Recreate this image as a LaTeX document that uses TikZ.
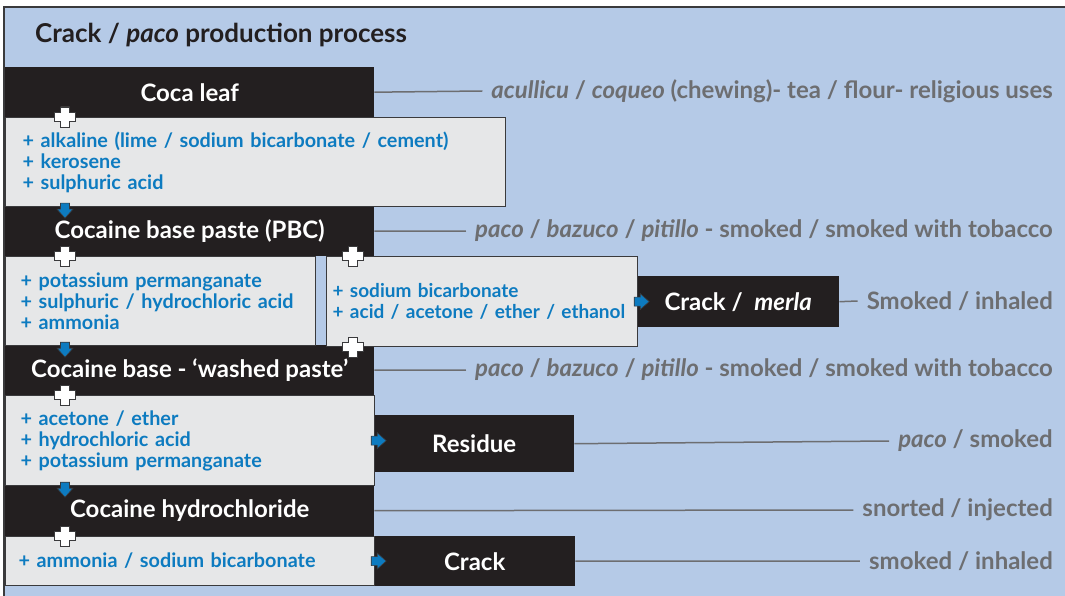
\documentclass[tikz,border=0pt]{standalone}
\usepackage{fontspec}
\setmainfont{Lato}
\usetikzlibrary{positioning}
\definecolor{bgblue}{HTML}{B5CAE7}
\definecolor{framegray}{HTML}{3A3A3C}
\definecolor{stageblack}{HTML}{231F20}
\definecolor{addgray}{HTML}{E6E7E8}
\definecolor{edgegray}{HTML}{3A3A3C}
\definecolor{addblue}{HTML}{0D7BC0}
\definecolor{usegray}{HTML}{6D6E71}

\begin{document}
\begin{tikzpicture}[x=1pt,y=-1pt,
    stage/.style={fill=stageblack,text=white,font=\bfseries\fontsize{24}{26}\selectfont,anchor=north west,inner sep=0pt},
    adds/.style={fill=addgray,draw=edgegray,line width=1.2pt,text=addblue,font=\bfseries\fontsize{19.8}{21}\selectfont,anchor=north west,align=left,inner ysep=0pt},
    use/.style={text=usegray,font=\bfseries\fontsize{24}{26}\selectfont,anchor=east,inner xsep=9pt,inner ysep=0pt},
    useline/.style={draw=usegray,line width=1.5pt},
    plusmark/.pic={\filldraw[fill=white,draw=edgegray,line width=0.8pt]
      (-4.5,-10) -- (4.5,-10) -- (4.5,-4.5) -- (10.5,-4.5) -- (10.5,4.5) -- (4.5,4.5)
      -- (4.5,10) -- (-4.5,10) -- (-4.5,4.5) -- (-10.5,4.5) -- (-10.5,-4.5) -- (-4.5,-4.5) -- cycle;},
    flowmark/.pic={\filldraw[fill=addblue,draw=edgegray,line width=0.6pt]
      (-4,-4.5) -- (2,-4.5) -- (2,-8) -- (11,0) -- (2,8) -- (2,4.5) -- (-4,4.5) -- cycle;}]
  \useasboundingbox (0,0) rectangle (1065,596);
  % background
  \fill[bgblue] (4,7) rectangle (1065,596);
  \draw[framegray,line width=2pt] (4,596) -- (4,7) -- (1065,7);
  \node[anchor=west,text=stageblack,font=\bfseries\fontsize{26}{28}\selectfont,inner sep=0pt] (title) at (35,35) {Crack / \textit{paco} production process};

  % stages
  \node[stage,minimum width=369,minimum height=50] (coca) at (5,67) {Coca leaf};
  \node[stage,minimum width=369,minimum height=50] (pbc) at (5,206) {Cocaine base paste (PBC)};
  \node[stage,minimum width=369,minimum height=50] (washed) at (5,345) {Cocaine base - ‘washed paste’};
  \node[stage,minimum width=369,minimum height=51] (hcl) at (5,485) {Cocaine hydrochloride};
  \node[stage,minimum width=202,minimum height=51] (merla) at (637,276) {Crack /\ \ \textit{merla}};
  \node[stage,minimum width=200,minimum height=57] (residue) at (374,415) {Residue};
  \node[stage,minimum width=201,minimum height=50] (crack) at (374,536) {Crack};

  % what is added
  \node[adds,inner xsep=17pt,text width=466,minimum height=89] (coca-add) at (5,117)
    {+ alkaline (lime / sodium bicarbonate / cement)\\+ kerosene\\+ sulphuric acid};
  \node[adds,inner xsep=15pt,text width=280,minimum height=89] (pbc-add) at (5,256)
    {+ potassium permanganate\\+ sulphuric / hydrochloric acid\\+ ammonia};
  \node[adds,font=\bfseries\fontsize{19}{21}\selectfont,inner xsep=6pt,text width=299,minimum height=90] (merla-add) at (326,256)
    {+ sodium bicarbonate\\+ acid / acetone / ether / ethanol};
  \node[adds,inner xsep=15pt,text width=339,minimum height=90] (washed-add) at (5,395)
    {+ acetone / ether\\+ hydrochloric acid\\+ potassium permanganate};
  \node[adds,inner xsep=13pt,text width=343,minimum height=49] (hcl-add) at (5,536)
    {+ ammonia / sodium bicarbonate};

  % markers
  \pic at ([xshift=60]coca-add.north west) {plusmark};
  \pic[rotate=-90] at ([xshift=60]coca-add.south west) {flowmark};
  \pic at ([xshift=60]pbc-add.north west) {plusmark};
  \pic[rotate=-90] at ([xshift=60]pbc-add.south west) {flowmark};
  \pic at ([xshift=27]merla-add.north west) {plusmark};
  \pic at ([xshift=27]merla-add.south west) {plusmark};
  \pic at (merla-add.east) {flowmark};
  \pic at ([xshift=60]washed-add.north west) {plusmark};
  \pic[rotate=-90] at ([xshift=60]washed-add.south west) {flowmark};
  \pic at (washed-add.east) {flowmark};
  \pic at ([xshift=60]hcl-add.north west) {plusmark};
  \pic at (hcl-add.east) {flowmark};

  % uses
  \node[use] (coca-use) at (1062,91) {\textit{acullicu} / \textit{coqueo} (chewing)- tea / flour- religious uses};
  \node[use] (pbc-use) at (1062,231) {\textit{paco} / \textit{bazuco} / \textit{pitillo} - smoked / smoked with tobacco};
  \node[use] (merla-use) at (1062,301) {Smoked / inhaled};
  \node[use] (washed-use) at (1062,370) {\textit{paco} / \textit{bazuco} / \textit{pitillo} - smoked / smoked with tobacco};
  \node[use] (residue-use) at (1062,441) {\textit{paco} / smoked};
  \node[use] (hcl-use) at (1062,510) {snorted / injected};
  \node[use] (crack-use) at (1062,561) {smoked / inhaled};
  \draw[useline] (coca.east) -- (coca-use.west);
  \draw[useline] (pbc.east) -- (pbc-use.west);
  \draw[useline] (merla.east) -- (merla-use.west);
  \draw[useline] (washed.east) -- (washed-use.west);
  \draw[useline] (residue.east) -- (residue-use.west);
  \draw[useline] (hcl.east) -- (hcl-use.west);
  \draw[useline] (crack.east) -- (crack-use.west);
\end{tikzpicture}
\end{document}
